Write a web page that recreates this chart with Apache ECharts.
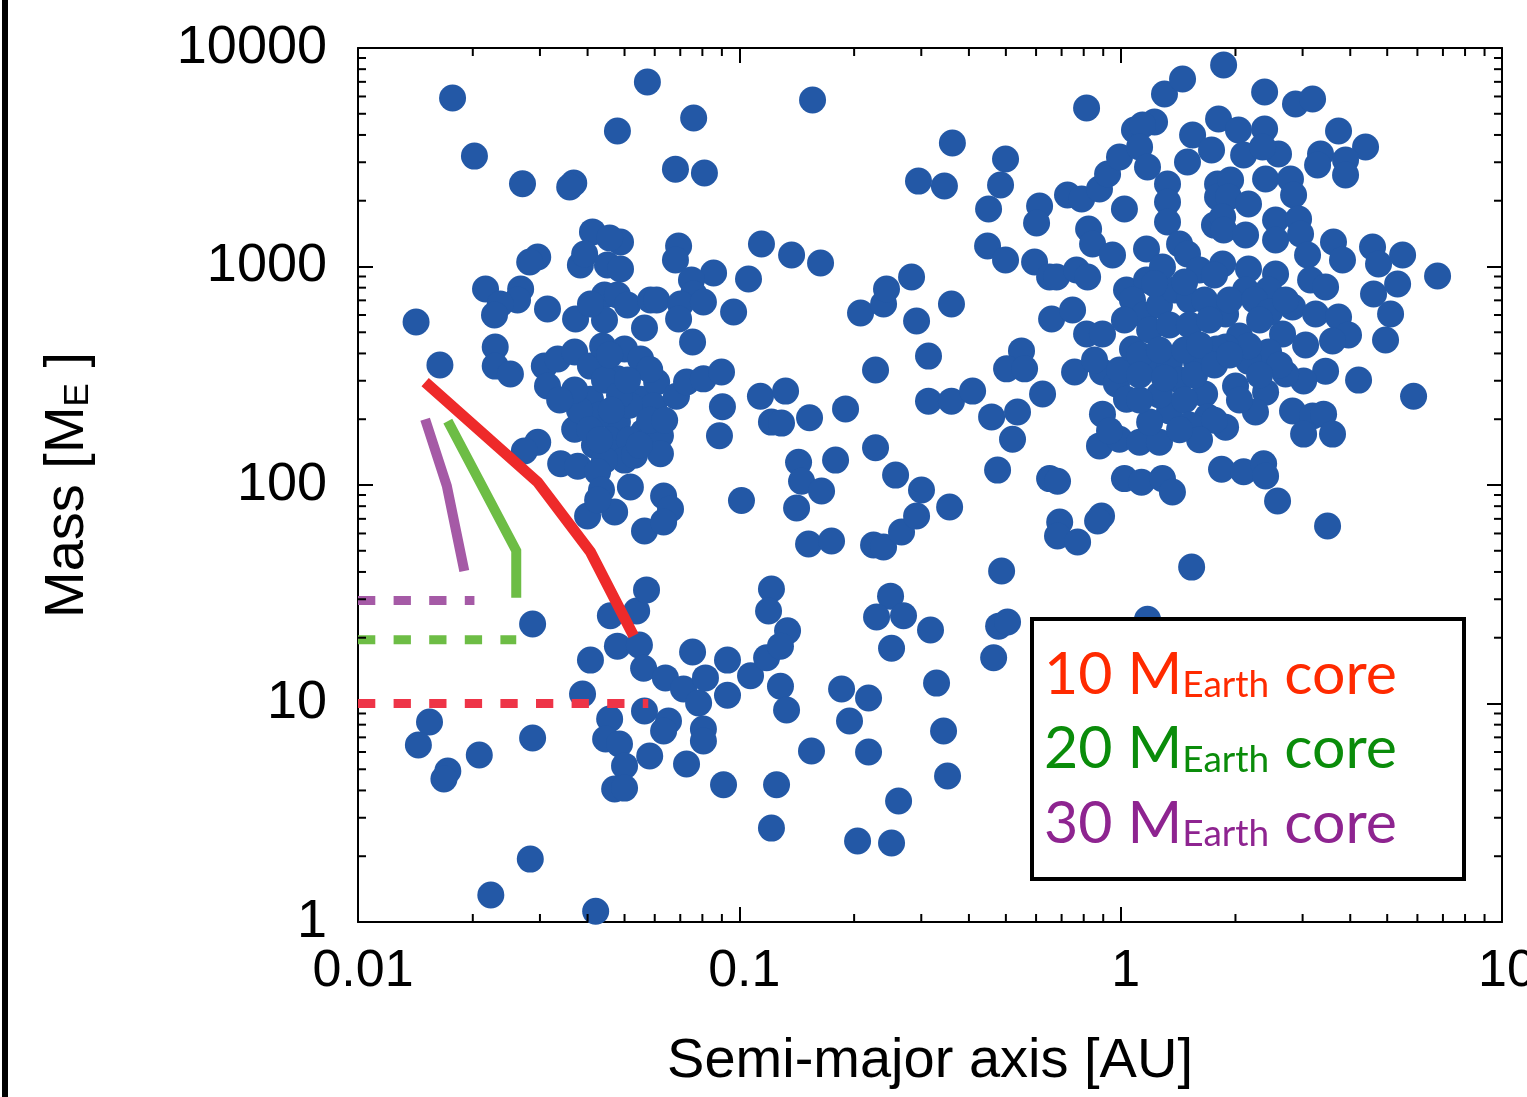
<!DOCTYPE html>
<html><head><meta charset="utf-8">
<script src="https://cdn.jsdelivr.net/npm/echarts@6/dist/echarts.min.js"></script>
<style>html,body{margin:0;padding:0;background:#fff}#c{width:1527px;height:1097px}</style>
</head><body><div id="c"></div>
<script>
// ---- tick labels ----
const xTickLabels = ['0.01', '0.1', '1', '10'];
const yTickLabels = ['1', '10', '100', '1000', '10000'];
const xMinorTicks = [0.02,0.03,0.04,0.05,0.06,0.07,0.08,0.09,0.2,0.3,0.4,0.5,0.6,0.7,0.8,0.9,2,3,4,5,6,7,8,9];
const yMinorTicks = [2,3,4,5,6,7,8,9,20,30,40,50,60,70,80,90,200,300,400,500,600,700,800,900,2000,3000,4000,5000,6000,7000,8000,9000];

// ---- planets: [semi-major axis AU, mass M_E] ----
const innerPlanets = [
[0.0177,5900],[0.0202,3200],[0.0270,2390],[0.0368,2410],[0.0359,2310],[0.0479,4170],[0.0574,6990],[0.0142,557],[0.0164,354],[0.0412,1440],
[0.0488,1295],[0.0457,1350],[0.0296,1105],[0.0282,1049],[0.0383,1016],[0.0393,1141],[0.0451,1016],[0.0488,974],[0.0216,789],[0.0267,789],
[0.0262,702],[0.0236,673],[0.0228,600],[0.0314,639],[0.0372,575],[0.0443,740],[0.0479,740],[0.0443,569],[0.0407,673],[0.0509,666],
[0.0585,702],[0.0564,523],[0.0229,428],[0.0229,350],[0.0251,322],[0.0308,350],[0.0314,284],[0.0334,377],[0.0370,406],[0.0407,350],
[0.0438,433],[0.0500,419],[0.0551,377],[0.0479,306],[0.0407,247],[0.0551,247],[0.0479,194],[0.0370,180],[0.0607,296],[0.0596,230],
[0.0561,175],[0.0621,168],[0.0621,139],[0.0684,255],[0.0727,296],[0.0805,306],[0.0898,329],[0.0754,451],[0.0903,228],[0.0887,168],
[0.0430,209],[0.0457,161],[0.0515,161],[0.0417,152],[0.0381,220],[0.0515,232],[0.0443,302],[0.0582,198],[0.0500,130],[0.0443,130],
[0.0531,137],[0.0370,272],[0.0338,245],[0.0582,338],[0.0637,198],[0.0457,394],[0.0405,179],[0.0547,152],[0.0485,258],[0.0430,161],
[0.0509,302],[0.0462,220],[0.0296,157],[0.0273,143],[0.0340,125],[0.0377,122],[0.0425,115],[0.0518,97.9],[0.0471,75.2],[0.0564,61.6],
[0.0400,72.1],[0.0633,89.1],[0.0660,77.6],[0.0633,67.7],[0.0435,94.8],[0.0425,85.4],[0.0287,23.1],[0.0459,25.2],[0.0538,26.5],[0.0571,33.1],
[0.0407,15.8],[0.0479,18.3],[0.0547,18.5],[0.0561,14.5],[0.0388,11.05],[0.0564,9.24],[0.0457,8.49],[0.0446,6.88],[0.0485,6.53],[0.0500,5.18],
[0.0582,5.75],[0.0471,4.06],[0.0500,4.10],[0.0154,8.23],[0.0144,6.46],[0.0172,4.91],[0.0168,4.51],[0.0208,5.81],[0.0287,6.95],[0.0283,1.94],
[0.0223,1.33],[0.0420,1.12],
[0.0759,4780],[0.0680,2790],[0.0810,2680],[0.0693,1241],[0.0680,1071],[0.0856,934],[0.0749,868],[0.0759,748],[0.0607,702],[0.0701,673],
[0.0805,688],[0.0693,575],[0.0966,619],
[0.0754,17.2],[0.0640,13.1],[0.0714,11.65],[0.0782,10.05],[0.0815,13.1],[0.0931,15.8],[0.0931,10.9],[0.0652,8.32],[0.0633,7.48],[0.0805,7.64],
[0.0805,6.73],[0.0727,5.29],[0.0909,4.25]
];
const middlePlanets = [
[0.1556,5780],[0.295,2460],[0.345,2335],[0.362,3675],[0.1057,877],[0.1143,1268],[0.1371,1129],[0.1633,1038],[0.2079,613],[0.2389,673],
[0.2432,789],[0.2829,895],[0.2916,563],[0.1136,255],[0.1322,269],[0.1214,194],[0.1290,192],[0.1528,203],[0.1899,223],[0.2276,336],
[0.3134,389],[0.3134,242],[0.2276,148],[0.2569,111],[0.3004,94.9],[0.1430,127],[0.1456,104],[0.1643,93.9],[0.1788,130],[0.1413,78.5],
[0.1519,53.7],[0.1745,55.4],[0.2249,53.1],[0.2389,52.0],[0.2663,60.9],[0.2916,72.1],[0.1214,33.4],[0.1193,26.5],[0.1338,21.5],[0.2492,31.0],
[0.2290,24.9],[0.2695,25.2],[0.3172,21.7],[0.1070,13.4],[0.1179,16.2],[0.1282,18.3],[0.1282,12.0],[0.1330,9.34],[0.1252,4.25],[0.1214,2.69],
[0.1546,6.06],[0.1854,11.65],[0.2182,10.6],[0.1945,8.32],[0.2182,6.00],[0.2507,17.9],[0.2616,3.58],[0.2042,2.35],[0.2507,2.30],[0.3290,12.4],
[0.3432,7.48],[0.3516,4.66],[0.4644,16.2],[0.4786,22.6],[0.5051,23.6],[0.4873,40.4],[0.1013,85.0],
[0.5495,411],[0.5021,340],[0.5598,340],[0.757,329],[0.360,242],[0.409,269],[0.4587,205],[0.5364,216],[0.5205,162],[0.6240,261],
[0.4756,117],[0.651,107],[0.683,104],[0.356,79.3],[0.692,67.7],[0.683,58.4],[0.771,54.8],[0.891,72.1],[0.870,68.4],
[0.814,5315],[0.499,3105],[0.4842,2360],[0.4504,1833],[0.4477,1241],[0.499,1071],[0.6129,1891],[0.6018,1582],[0.7255,2125],[0.790,2037],
[0.880,2263],[0.924,2651],[0.993,3170],[0.824,1485],[0.844,1268],[0.952,1129],[0.5946,1049],[0.651,895],[0.679,895],[0.766,964],
[0.819,895],[0.360,673],[0.659,575],[0.748,632],[0.814,491],[0.896,491],
[0.896,329],[0.975,290],[0.896,211],[0.880,151],[0.993,162],[0.935,177],[0.993,336],[0.854,373]
];
const outerPlanets = [
[1.535,42.1],[1.176,24.3],[1.087,4214],[1.227,4584],[1.141,4441],[1.121,3524],[1.176,2853],[1.303,6159],[1.453,7214],[1.862,8360],
[1.023,1833],[1.327,2385],[1.327,1973],[1.327,1599],[1.169,1203],[1.427,1268],[1.497,1141],[1.544,3998],[1.497,3008],[1.731,3414],
[1.806,4733],[1.795,2385],[1.795,2080],[1.762,1547],[1.036,780],[1.169,868],[1.287,995],[2.385,6288],[2.874,5540],[3.186,5845],
[2.037,4214],[2.385,4259],[2.101,3238],[2.594,3272],[2.356,3524],[3.727,4169],[4.387,3524],[3.343,3272],[3.284,2914],[3.888,3072],
[3.888,2623],[1.942,2488],[2.399,2514],[2.788,2514],[1.918,2080],[2.164,1932],[2.841,2125],[1.851,1684],[2.548,1632],[2.928,1650],
[1.862,1469],[2.126,1394],[2.548,1322],[2.963,1408],[3.091,1129],[3.615,1295],[3.817,1071],[4.576,1228],[4.745,1027],[5.487,1129],
[6.777,905],[1.851,1027],[2.164,974],[2.548,924],[3.148,868],[3.446,806],[4.604,748],[5.324,832],[5.103,606],[2.126,780],
[2.443,780],[1.884,606],[2.823,653],[3.245,606],[3.727,587],[3.958,486],[2.049,481],[2.658,491],[3.054,437],[4.950,461],
[4.206,302],[5.863,255],[3.594,456],[3.446,332],[3.018,299],[2.707,322],[2.443,406],[2.164,369],[2.164,433],[1.884,428],
[2.001,284],[2.399,266],[2.257,216],[1.884,184],[2.823,218],[3.186,207],[3.405,211],[3.018,171],[3.594,171],[1.839,118],
[2.101,115],[2.371,125],[2.399,110],[2.579,84.5],[3.488,64.9],
[1.036,247],[1.121,157],[1.264,157],[1.343,218],[1.191,194],[1.074,419],[1.169,350],[1.343,365],[1.581,365],[1.784,419],
[1.660,261],[1.690,205],[1.023,107],[1.134,103],[1.287,107],[1.367,92.9],
[1.074,702],[1.152,600],[1.264,666],[1.386,780],[1.515,702],[1.660,702],[1.023,569],[1.191,512],[1.343,540],[1.515,540],
[1.710,569],[1.121,394],[1.264,415],[1.471,415],[1.610,437],[1.427,302],[1.562,319],[1.762,354],[1.264,258],[1.471,245],
[1.121,245],[1.515,188],[1.930,702],[2.244,702],[2.457,619],[2.707,702],[2.314,569],[1.930,394],[2.610,354],[2.314,319],
[2.049,245],[1.762,198],[1.610,161],[1.427,179],[1.121,319],[1.303,309],[1.610,964],[1.762,914],[1.471,850],[1.227,835]
];

// ---- core-mass tracks ----
const core10Track = [[0.015,296],[0.0296,103],[0.0407,49.4],[0.0528,20.4]];
const core20Track = [[0.0172,196],[0.026,50],[0.026,30.5]];
const core30Track = [[0.015,200],[0.0171,99],[0.019,40.4]];
const core10Limit = [[0.01,10],[0.0577,10]];
const core20Limit = [[0.01,19.6],[0.026,19.6]];
const core30Limit = [[0.01,29.6],[0.0202,29.6]];

const legendLines = [
  {num: '10', color: '#ff2a00'},
  {num: '20', color: '#0a8c0a'},
  {num: '30', color: '#8e2490'}
];

const chart = echarts.init(document.getElementById('c'));
const FONT = 'Liberation Sans';
const axisLine = {show: true, onZero: false, lineStyle: {color: '#000', width: 2}};
const majorTick = {show: true, inside: true, length: 15, lineStyle: {color: '#000', width: 2}};

function minorTickSeries(values, isX) {
  return {
    type: 'custom', coordinateSystem: 'cartesian2d', silent: true, clip: false, z: 6,
    data: values.map(v => isX ? [v, 1] : [0.01, v]),
    renderItem(params, api) {
      const cs = params.coordSys;
      const p = api.coord([api.value(0), api.value(1)]);
      const st = {stroke: '#000', lineWidth: 2};
      const L = 8;
      if (isX) {
        return {type: 'group', children: [
          {type: 'line', shape: {x1: p[0], y1: cs.y + cs.height, x2: p[0], y2: cs.y + cs.height - L}, style: st},
          {type: 'line', shape: {x1: p[0], y1: cs.y, x2: p[0], y2: cs.y + L}, style: st}
        ]};
      }
      return {type: 'group', children: [
        {type: 'line', shape: {x1: cs.x, y1: p[1], x2: cs.x + L, y2: p[1]}, style: st},
        {type: 'line', shape: {x1: cs.x + cs.width, y1: p[1], x2: cs.x + cs.width - L, y2: p[1]}, style: st}
      ]};
    }
  };
}

function trackSeries(data, color, width, dashed) {
  return {
    type: 'line', data, symbol: 'none', z: 4, silent: true, animation: false,
    lineStyle: {color, width, opacity: 1, type: dashed ? [17.3, 18.3] : 'solid', cap: 'butt', join: 'miter'}
  };
}

const scatterStyle = {color: '#2358a6', opacity: 1};
const legendTexts = legendLines.map((l, i) => ({
  type: 'text', x: 1044, y: 704 + i * 74.5, z: 101,
  style: {
    text: `{n|${l.num} M}{s|Earth}{n| core}`,
    verticalAlign: 'bottom', align: 'left',
    rich: {
      n: {fontSize: 59, fontFamily: 'Lato', fill: l.color, verticalAlign: 'bottom'},
      s: {fontSize: 37, fontFamily: 'Lato', fill: l.color, verticalAlign: 'bottom'}
    }
  }
}));

chart.setOption({
  animation: false,
  backgroundColor: '#fff',
  grid: {left: 358, top: 48, width: 1144, height: 874, containLabel: false, outerBoundsMode: 'none'},
  xAxis: [{
    type: 'log', logBase: 10, min: 0.01, max: 10, position: 'bottom',
    axisLine, axisTick: majorTick, splitLine: {show: false}, minorTick: {show: false},
    axisLabel: {show: true, fontSize: 52, fontFamily: FONT, color: '#000', margin: 24, padding: [0, 0, 0, 10],
      showMinLabel: true, showMaxLabel: true, hideOverlap: false,
      formatter: v => xTickLabels[Math.round(Math.log10(v)) + 2]},
    name: 'Semi-major axis [AU]', nameLocation: 'middle', nameGap: 112,
    nameTextStyle: {fontSize: 56, fontFamily: FONT, color: '#000'}
  }, {
    type: 'log', logBase: 10, min: 0.01, max: 10, position: 'top',
    axisLine, axisTick: majorTick, axisLabel: {show: false}, splitLine: {show: false}
  }],
  yAxis: [{
    type: 'log', logBase: 10, min: 1, max: 10000, position: 'left',
    axisLine, axisTick: majorTick, splitLine: {show: false},
    axisLabel: {show: true, fontSize: 54, fontFamily: FONT, color: '#000', margin: 31,
      showMinLabel: true, showMaxLabel: true,
      formatter: v => yTickLabels[Math.round(Math.log10(v))]},
    name: 'Mass [M{s|E} ]', nameLocation: 'middle', nameGap: 262, nameRotate: 90,
    nameTextStyle: {fontSize: 56, fontFamily: FONT, color: '#000',
      rich: {s: {fontSize: 35, fontFamily: FONT, color: '#000', verticalAlign: 'bottom'}}}
  }, {
    type: 'log', logBase: 10, min: 1, max: 10000, position: 'right',
    axisLine, axisTick: majorTick, axisLabel: {show: false}, splitLine: {show: false}
  }],
  series: [
    {type: 'scatter', data: innerPlanets, symbolSize: 27, itemStyle: scatterStyle, z: 2, silent: true},
    {type: 'scatter', data: middlePlanets, symbolSize: 27, itemStyle: scatterStyle, z: 2, silent: true},
    {type: 'scatter', data: outerPlanets, symbolSize: 27, itemStyle: scatterStyle, z: 2, silent: true},
    trackSeries(core10Limit, '#ee3447', 9, true),
    trackSeries(core20Limit, '#6dbd45', 9, true),
    trackSeries(core30Limit, '#a55aa6', 9, true),
    trackSeries(core10Track, '#ee2a2a', 11, false),
    trackSeries(core20Track, '#6dbd45', 10, false),
    trackSeries(core30Track, '#a55aa6', 10, false),
    minorTickSeries(xMinorTicks, true),
    minorTickSeries(yMinorTicks, false)
  ],
  graphic: [
    {type: 'rect', x: 2, y: 0, z: 100, shape: {width: 6, height: 1097}, style: {fill: '#000'}},
    {type: 'rect', x: 1032, y: 619, z: 100, shape: {width: 432, height: 260},
      style: {fill: '#fff', stroke: '#000', lineWidth: 4}},
    ...legendTexts
  ]
});
</script>
</body></html>
